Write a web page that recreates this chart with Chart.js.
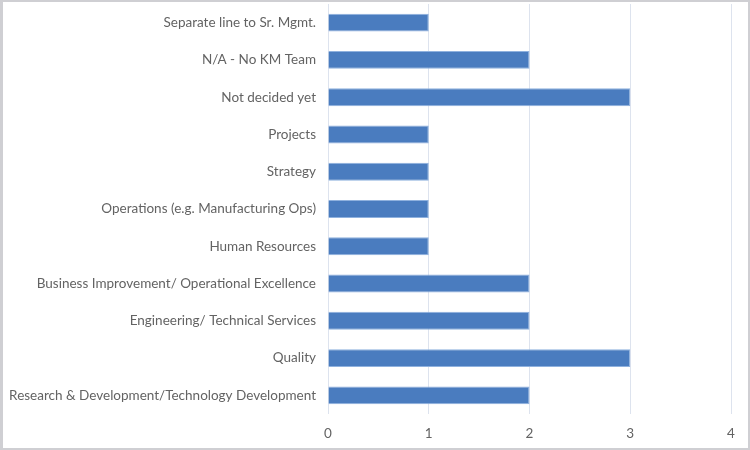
<!DOCTYPE html>
<html>
<head>
<meta charset="utf-8">
<script src="https://cdn.jsdelivr.net/npm/chart.js@4/dist/chart.umd.min.js"></script>
<style>
  html, body { margin: 0; padding: 0; background: #fff; }
  #wrap {
    width: 750px; height: 450px; box-sizing: border-box;
    border: 2px solid #cfcfd3; border-left-width: 3px; background: #fff;
  }
  #chart { display: block; }
</style>
</head>
<body>
<div id="wrap"><canvas id="chart" width="745" height="446"></canvas></div>
<script>
const categories = [
  'Separate line to Sr. Mgmt.',
  'N/A - No KM Team',
  'Not decided yet',
  'Projects',
  'Strategy',
  'Operations (e.g. Manufacturing Ops)',
  'Human Resources',
  'Business Improvement/ Operational Excellence',
  'Engineering/ Technical Services',
  'Quality',
  'Research & Development/Technology Development'
];
const counts = [1, 2, 3, 1, 1, 1, 1, 2, 2, 3, 2];
const xTicks = [0, 1, 2, 3, 4];

const font = { family: 'Lato, "Open Sans", sans-serif', size: 13.5 };

new Chart(document.getElementById('chart').getContext('2d'), {
  type: 'bar',
  data: {
    labels: categories,
    datasets: [{
      data: counts,
      backgroundColor: '#4a7cbf',
      borderColor: '#8fb1de',
      borderWidth: 1,
      barPercentage: 0.48,
      categoryPercentage: 1
    }]
  },
  options: {
    indexAxis: 'y',
    responsive: false,
    animation: false,
    layout: { padding: { top: 2, right: 17, left: 0, bottom: 0 } },
    plugins: { legend: { display: false }, tooltip: { enabled: false } },
    scales: {
      x: {
        min: xTicks[0],
        max: xTicks[xTicks.length - 1],
        afterBuildTicks: s => { s.ticks = xTicks.map(v => ({ value: v })); },
        afterFit: s => { s.height = 34; },
        border: { display: false },
        grid: { color: '#dde3ee', drawTicks: false },
        ticks: { font, color: '#636363', padding: 12 }
      },
      y: {
        afterFit: s => { s.width = 325; s.paddingTop = 0; s.paddingBottom = 0; },
        border: { display: false },
        grid: { display: false, drawTicks: false },
        ticks: { font, color: '#636363', padding: 12, autoSkip: false }
      }
    }
  }
});
</script>
</body>
</html>
